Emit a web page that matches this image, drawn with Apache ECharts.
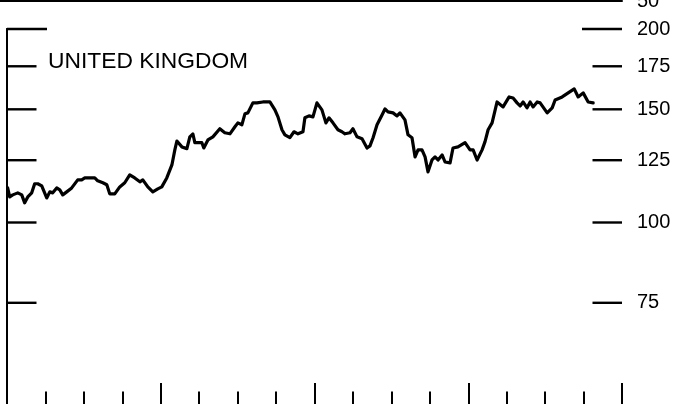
<!DOCTYPE html>
<html>
<head>
<meta charset="utf-8">
<script src="https://cdn.jsdelivr.net/npm/echarts@6/dist/echarts.min.js"></script>
<style>
html,body{margin:0;padding:0;background:#fff;}
#chart{width:677px;height:404px;}
</style>
</head>
<body>
<div id="chart"></div>
<script>
// Time position in months from the start of the 4-year (16-quarter) span
var months = [0.05,0.21,0.45,0.84,1.15,1.38,1.62,1.93,2.16,2.40,2.71,3.10,3.34,3.57,3.88,4.12,4.35,4.66,5.05,5.52,
  5.83,6.07,6.46,6.85,7.08,7.48,7.79,8.02,8.41,8.80,9.19,9.58,9.97,10.37,10.60,10.99,11.38,11.77,12.08,12.47,
  12.87,13.10,13.26,13.65,14.04,14.27,14.51,14.66,14.90,15.21,15.36,15.68,16.07,16.61,17.00,17.40,17.79,18.02,18.33,18.57,
  18.80,19.19,19.50,19.97,20.52,20.91,21.15,21.46,21.69,22.08,22.40,22.71,23.10,23.25,23.57,23.88,24.19,24.58,24.89,25.13,
  25.44,25.83,26.14,26.38,26.77,27.00,27.32,27.71,28.10,28.33,28.57,28.88,29.27,29.50,29.74,30.13,30.44,30.67,31.06,31.30,
  31.61,31.85,32.08,32.39,32.63,32.86,33.17,33.41,33.64,33.96,34.19,34.58,34.81,35.20,35.75,36.14,36.38,36.69,37.08,37.31,
  37.55,37.86,38.25,38.33,38.72,39.19,39.50,39.81,40.05,40.28,40.59,40.83,41.06,41.38,41.61,42.16,42.55,42.78,43.33,43.80,
  44.27,44.58,44.97,45.36,45.75];
// United Kingdom index values
var ukValues = [113.2,109.6,110.4,111.2,110.4,107.3,109.6,111.2,114.9,114.9,114.0,109.2,111.6,111.2,113.2,112.4,110.4,111.6,113.2,116.5,
  116.5,117.3,117.3,117.3,116.1,115.3,114.5,110.8,110.8,113.6,115.3,118.6,117.3,115.7,116.5,113.6,111.6,112.8,113.6,117.3,
  122.9,129.7,133.9,131.1,130.3,135.9,137.3,133.1,133.1,133.1,130.6,134.4,135.9,139.9,137.9,137.4,140.9,142.9,141.9,147.6,
  148.1,153.5,153.5,154.0,154.0,149.7,146.0,139.4,136.9,135.5,138.4,137.4,138.4,145.5,146.5,146.0,153.5,149.7,142.9,145.5,
  142.9,139.4,138.4,137.4,137.9,139.9,135.9,135.0,130.6,131.6,135.5,141.9,147.0,150.2,148.6,148.1,146.5,148.1,144.4,136.9,
  135.5,126.5,129.7,129.7,126.5,119.9,125.1,126.5,125.1,127.4,124.2,123.8,130.6,131.1,133.1,129.7,129.7,125.1,129.7,133.6,
  139.4,142.9,154.0,153.5,151.3,156.8,156.2,153.5,151.8,154.0,150.8,154.0,151.3,154.0,153.5,148.1,150.8,155.1,156.8,159.1,
  161.4,156.8,159.1,154.0,153.5];
// Right-hand scale tick labels (log scale)
var yTicks = [200, 175, 150, 125, 100, 75];
var titleText = 'UNITED KINGDOM';
var upperPanelLabel = '50';

var FONT = 'Liberation Sans, Arial, Helvetica, sans-serif';
var seriesData = months.map(function (m, i) { return [m, ukValues[i]]; });

var chart = echarts.init(document.getElementById('chart'), null, {renderer: 'canvas'});
chart.setOption({
  animation: false,
  backgroundColor: '#fff',
  title: {
    text: titleText, left: 48, top: 50, padding: 0,
    textStyle: {fontFamily: FONT, fontSize: 22.8, fontWeight: 'normal', color: '#000'}
  },
  grid: [
    {left: 7, right: 55, top: 29, height: 387, containLabel: false, outerBoundsMode: 'none'},
    {left: 0, right: 55, top: -200, height: 201, containLabel: false, outerBoundsMode: 'none'}
  ],
  xAxis: [
    {type: 'value', gridIndex: 0, min: 0, max: 48, interval: 3,
     axisLine: {show: true, lineStyle: {color: '#000', width: 2}},
     axisTick: {show: true, inside: true, length: 24.5, lineStyle: {color: '#000', width: 2}},
     axisLabel: {show: false}, splitLine: {show: false}},
    {type: 'value', gridIndex: 0, min: 0, max: 48, interval: 12, position: 'bottom',
     axisLine: {show: false},
     axisTick: {show: true, inside: true, length: 33, lineStyle: {color: '#000', width: 2}},
     axisLabel: {show: false}, splitLine: {show: false}},
    {type: 'value', gridIndex: 1, min: 0, max: 48, position: 'bottom',
     axisLine: {show: true, lineStyle: {color: '#000', width: 2}},
     axisTick: {show: false}, axisLabel: {show: false}, splitLine: {show: false}}
  ],
  yAxis: [
    {type: 'log', gridIndex: 0, logBase: 10, min: 50, max: 200, position: 'right',
     axisLine: {show: true, lineStyle: {color: '#000', width: 2}},
     axisTick: {show: false}, axisLabel: {show: false}, splitLine: {show: false}},
    {type: 'log', gridIndex: 0, logBase: 10, min: 50, max: 200, position: 'left',
     axisLine: {show: true, lineStyle: {color: '#000', width: 2}},
     axisTick: {show: false}, axisLabel: {show: false}, splitLine: {show: false}},
    {type: 'value', gridIndex: 1, min: 50, max: 100, interval: 50, position: 'right',
     axisLine: {show: false}, axisTick: {show: false}, splitLine: {show: false},
     axisLabel: {show: true, margin: 15, color: '#000', fontFamily: FONT, fontSize: 20,
       padding: [0, 0, 5, 0],
       formatter: function (v) { return v === 50 ? upperPanelLabel : ''; }}}
  ],
  series: [
    {
      type: 'custom', xAxisIndex: 0, yAxisIndex: 0, silent: true, clip: false,
      data: yTicks.map(function (v) { return [0, v]; }),
      renderItem: function (params, api) {
        var v = api.value(1);
        var pL = api.coord([0, v]);
        var pR = api.coord([48, v]);
        var len = v === 200 ? 40 : 29.5;
        var st = {stroke: '#000', lineWidth: 2.4};
        return {
          type: 'group',
          children: [
            {type: 'line', shape: {x1: pL[0], y1: pL[1], x2: pL[0] + len, y2: pL[1]}, style: st},
            {type: 'line', shape: {x1: pR[0] - len, y1: pR[1], x2: pR[0], y2: pR[1]}, style: st},
            {type: 'text', x: pR[0] + 15, y: pR[1],
             style: {text: String(v), fill: '#000', font: '20px ' + FONT,
                     textAlign: 'left', textVerticalAlign: 'middle'}}
          ]
        };
      }
    },
    {
      type: 'line', xAxisIndex: 0, yAxisIndex: 0,
      data: seriesData, showSymbol: false, symbol: 'none',
      lineStyle: {color: '#000', width: 3.2, join: 'round', cap: 'round'},
      clip: false
    }
  ]
});
</script>
</body>
</html>
